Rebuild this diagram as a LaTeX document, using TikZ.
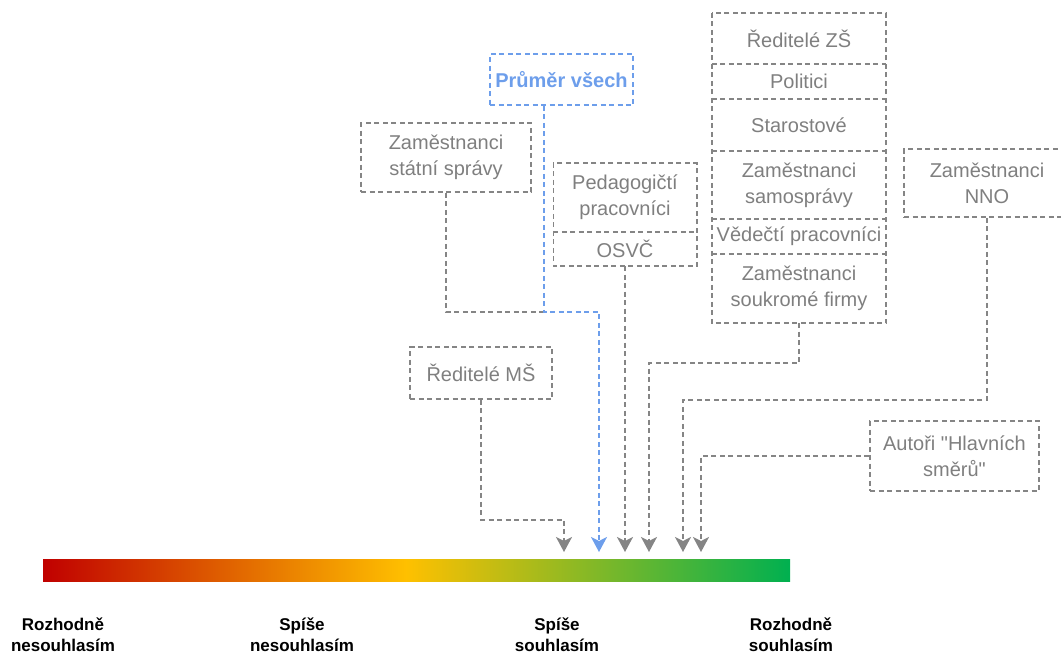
\documentclass[tikz,border=0pt]{standalone}
\usepackage{fontspec}
\setmainfont{Liberation Sans}[Ligatures=TeXOff]
\usetikzlibrary{arrows.meta}
\definecolor{boxGray}{HTML}{858585}
\definecolor{txtGray}{HTML}{7F7F7F}
\definecolor{avgBlue}{HTML}{6D9EEB}
\definecolor{barRed}{HTML}{C00000}
\definecolor{barYellow}{HTML}{FFC000}
\definecolor{barGreen}{HTML}{00B050}
\pgfdeclarehorizontalshading{agree}{100bp}{color(0bp)=(barRed); color(25bp)=(barRed); color(49.3bp)=(barYellow); color(75bp)=(barGreen); color(100bp)=(barGreen)}

\begin{document}
\begin{tikzpicture}[x=1pt, y=-1pt,
  link/.style={draw=boxGray, line width=1.6pt, dash pattern=on 5pt off 3.5pt},
  entry/.style={text=txtGray, font=\fontsize{20}{26}\selectfont, align=center, inner sep=0pt},
  group/.style={entry, link},
  tip/.style={link, -{Stealth[length=15pt, width=16pt, inset=4pt]}},
  scalelabel/.style={font=\fontsize{17}{21}\selectfont\bfseries, align=center, text=black}]
\useasboundingbox (0,0) rectangle (1061,657);
%
\node[group, draw=avgBlue, text=avgBlue, font=\fontsize{20}{26}\selectfont\bfseries, minimum width=143pt, minimum height=51pt] (avg) at (561.5,79.5) {Průměr všech};
\node[group, minimum width=170pt, minimum height=69pt] (statni) at (446,157.5) {Zaměstnanci\\státní správy};
\node[entry, minimum width=143pt, minimum height=69pt] (pedag) at (625,197.5) {Pedagogičtí\\pracovníci};
\node[entry, minimum width=143pt, minimum height=34pt] (osvc) at (625,249) {OSVČ};
%
\node[entry, minimum width=174pt, minimum height=51pt] (redZS) at (799,38.5) {Ředitelé ZŠ};
\node[entry, minimum width=174pt, minimum height=35pt] (polit) at (799,81.5) {Politici};
\node[entry, minimum width=174pt, minimum height=52pt] (staro) at (799,125) {Starostové};
\node[entry, minimum width=174pt, minimum height=68pt] (samo) at (799,185) {Zaměstnanci\\samosprávy};
\node[entry, minimum width=174pt, minimum height=35pt] (vedec) at (799,236.5) {Vědečtí pracovníci};
\node[entry, minimum width=174pt, minimum height=69pt] (souk) at (799,288.5) {Zaměstnanci\\soukromé firmy};
%
\node[group, minimum width=166pt, minimum height=68pt] (nno) at (987,183) {Zaměstnanci\\NNO};
\node[group, minimum width=169pt, minimum height=70pt] (aut) at (954.5,456) {Autoři "Hlavních\\směrů"};
\node[group, minimum width=142pt, minimum height=52pt] (redMS) at (481,373) {Ředitelé MŠ};
%
% stacked boxes share their borders
\draw[link] (pedag.north west) rectangle (osvc.south east);
\draw[link] (pedag.south west) -- (pedag.south east);
\draw[link] (redZS.north west) rectangle (souk.south east);
\foreach \row in {redZS,polit,staro,samo,vedec}
  \draw[link] (\row.south west) -- (\row.south east);
%
\coordinate (join) at (544,312);
\coordinate (tMS) at (564,552);
\coordinate (tAvg) at (599,552);
\coordinate (tOsvc) at (625,552);
\coordinate (tSouk) at (649,552);
\coordinate (tNno) at (683,552);
\coordinate (tAut) at (701,552);
%
\draw[link] (statni.south) |- (join);
\draw[tip, draw=avgBlue] (join |- avg.south) -- (join) -| (tAvg);
\draw[tip] (redMS.south) -- ++(0,120) -| (tMS);
\draw[tip] (osvc.south) -- (tOsvc);
\draw[tip] (souk.south) -- ++(0,40) -| (tSouk);
\draw[tip] (nno.south) -- ++(0,182) -| (tNno);
\draw[tip] (aut.west) -| (tAut);
%
\shade[shading=agree] (43,559) rectangle (790,581);
%
\node[scalelabel] (disNo) at (63,635) {Rozhodně\\nesouhlasím};
\node[scalelabel] (disYes) at (302,635) {Spíše\\nesouhlasím};
\node[scalelabel] (agrNo) at (557,635) {Spíše\\souhlasím};
\node[scalelabel] (agrYes) at (791,635) {Rozhodně\\souhlasím};
\end{tikzpicture}
\end{document}
